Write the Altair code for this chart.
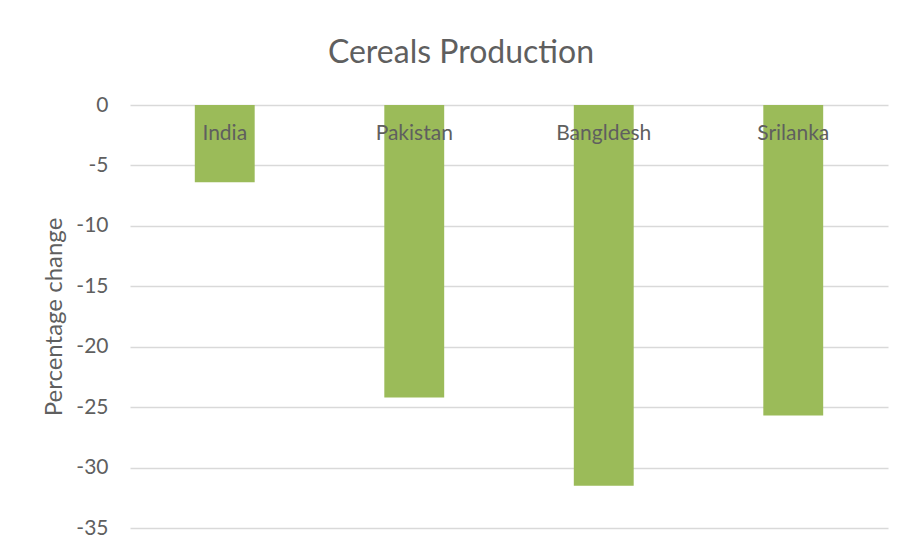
import altair as alt
import pandas as pd

countries = ["India", "Pakistan", "Bangldesh", "Srilanka"]
values = [-6.4, -24.2, -31.5, -25.7]

df = pd.DataFrame({"country": countries, "value": values})

FONT = "Lato"
GRAY = "#5f5f5f"

x_enc = alt.X("country:N", sort=countries, axis=None,
              scale=alt.Scale(paddingInner=0.684, paddingOuter=0.342))

base = alt.Chart(df)

bars = base.mark_bar(color="#9BBB59").encode(
    x=x_enc,
    y=alt.Y("value:Q",
            scale=alt.Scale(domain=[-35, 0], nice=False),
            axis=alt.Axis(values=[0, -5, -10, -15, -20, -25, -30, -35],
                          labelExpr="'' + datum.value",
                          title="Percentage change", domain=False, ticks=False,
                          labelPadding=22, labelFontSize=21, labelColor=GRAY,
                          labelFont=FONT, titleFont=FONT, titleFontSize=24,
                          titleColor=GRAY, titleFontWeight="normal",
                          titlePadding=9, gridColor="#d9d9d9", gridWidth=1.3)),
)

labels = base.transform_calculate(zero="0").mark_text(
    dy=29, fontSize=21, font=FONT, color=GRAY, baseline="middle", align="center"
).encode(
    x=x_enc,
    y=alt.Y("zero:Q"),
    text="country:N",
)

chart = alt.layer(bars, labels).properties(
    width=758,
    height=423,
    autosize=alt.AutoSizeParams(type="none"),
    padding={"left": 122, "top": 97, "right": 10, "bottom": 20},
    title=alt.TitleParams("Cereals Production", font=FONT, fontSize=32,
                          color=GRAY, fontWeight="normal", anchor="middle",
                          dx=-48, offset=24),
).configure_view(stroke=None)

chart.save("out.html", embed_options={"renderer": "svg", "actions": False})
